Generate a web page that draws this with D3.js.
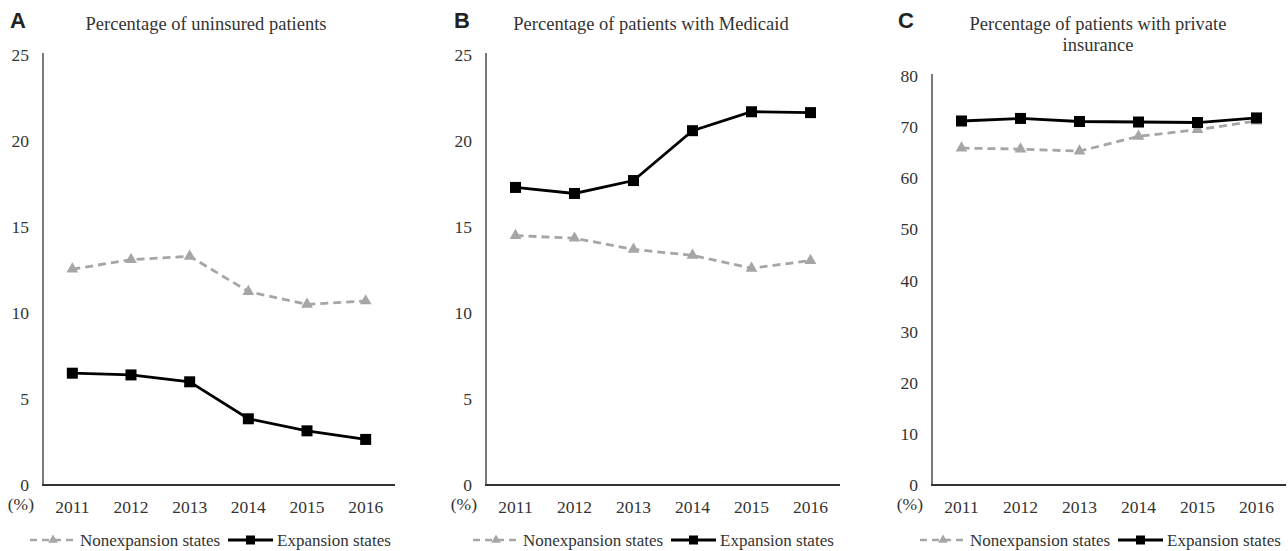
<!DOCTYPE html>
<html>
<head>
<meta charset="utf-8">
<script src="https://cdn.jsdelivr.net/npm/d3@7"></script>
<style>
  body { margin: 0; background: #fff; }
</style>
</head>
<body>
<svg id="chart"></svg>
<script>
// years on the x axis (shared by every panel)
const years = ["2011", "2012", "2013", "2014", "2015", "2016"];

// A: uninsured
const uninsuredNonexp = [12.55, 13.1, 13.3, 11.25, 10.5, 10.7];
const uninsuredExp    = [6.5, 6.4, 6.0, 3.85, 3.15, 2.65];

// B: Medicaid
const medicaidNonexp = [14.5, 14.35, 13.7, 13.35, 12.6, 13.05];
const medicaidExp    = [17.3, 16.95, 17.7, 20.6, 21.7, 21.65];

// C: private insurance
const privateNonexp = [65.9, 65.7, 65.3, 68.2, 69.5, 71.2];
const privateExp    = [71.2, 71.7, 71.1, 71.0, 70.9, 71.8];

const yTicksAB = [0, 5, 10, 15, 20, 25];
const yTicksC  = [0, 10, 20, 30, 40, 50, 60, 70, 80];

const legendLabels = ["Nonexpansion states", "Expansion states"];

const SERIF = "'Liberation Serif', 'Times New Roman', Tinos, 'DejaVu Serif', serif";
const SANS = "'Liberation Sans', Arial, sans-serif";

const panels = [
    { letter: "A", title: ["Percentage of uninsured patients"], nonexp: uninsuredNonexp, exp: uninsuredExp,
      yMax: 25, ticks: yTicksAB, x0: 43, x1: 395, yTop: 55, titleX: 206, letterX: 10, legendX: 30 },
    { letter: "B", title: ["Percentage of patients with Medicaid"], nonexp: medicaidNonexp, exp: medicaidExp,
      yMax: 25, ticks: yTicksAB, x0: 486, x1: 840, yTop: 55, titleX: 651, letterX: 454, legendX: 473 },
    { letter: "C", title: ["Percentage of patients with private", "insurance"], nonexp: privateNonexp, exp: privateExp,
      yMax: 80, ticks: yTicksC, x0: 932, x1: 1286, yTop: 76, titleX: 1098, letterX: 898, legendX: 920 }
];

const W = 1288, H = 551;
const yBottom = 485;
const grey = "#a6a6a6";
const textCol = "#333";

const svg = d3.select("#chart").attr("width", W).attr("height", H);

panels.forEach(p => {
    let g = svg.append("g");

    let x = d3.scaleBand().domain(years).range([p.x0, p.x1]);
    let y = d3.scaleLinear().domain([0, p.yMax]).range([yBottom, p.yTop]);
    let cx = d => x(d) + x.bandwidth() / 2;

    // panel letter + title
    g.append("text")
        .attr("x", p.letterX).attr("y", 28)
        .attr("font-family", SANS).attr("font-weight", "bold").attr("font-size", 22)
        .attr("fill", "#222")
        .text(p.letter);

    p.title.forEach((t, i) => {
        g.append("text")
            .attr("x", p.titleX).attr("y", 30 + i * 21)
            .attr("text-anchor", "middle")
            .attr("font-family", SERIF).attr("font-size", 18.5).attr("fill", textCol)
            .text(t);
    });

    // y axis
    let yAxis = d3.axisLeft(y).tickValues(p.ticks).tickSize(0).tickPadding(14).tickFormat(d3.format("d"));
    let yG = g.append("g").attr("transform", `translate(${p.x0},0)`).call(yAxis)
        .attr("font-family", SERIF).attr("font-size", 17.5);
    yG.select(".domain").attr("stroke", "#7a7a7a").attr("stroke-width", 2)
        .attr("d", `M0,${y(p.yMax) - 2}V${yBottom}`);
    yG.selectAll("text").attr("fill", textCol);

    // x axis
    let xAxis = d3.axisBottom(x).tickSize(0).tickPadding(16);
    let xG = g.append("g").attr("transform", `translate(0,${yBottom})`).call(xAxis)
        .attr("font-family", SERIF).attr("font-size", 17.5);
    xG.select(".domain").attr("stroke", "#333").attr("stroke-width", 2)
        .attr("d", `M${p.x0 - 1},0H${p.x1}`);
    xG.selectAll("text").attr("fill", textCol);

    g.append("text")
        .attr("x", p.x0 - 9).attr("y", 510)
        .attr("text-anchor", "end")
        .attr("font-family", SERIF).attr("font-size", 17.5).attr("fill", textCol)
        .text("(%)");

    let line = d3.line().x((d, i) => cx(years[i])).y(d => y(d));

    // nonexpansion: gray dashed with triangles
    g.append("path").datum(p.nonexp)
        .attr("d", line).attr("fill", "none")
        .attr("stroke", grey).attr("stroke-width", 2.8).attr("stroke-dasharray", "8,5");
    g.selectAll(".tri").data(p.nonexp).join("path")
        .attr("class", "tri")
        .attr("transform", (d, i) => `translate(${cx(years[i])},${y(d)})`)
        .attr("d", d3.symbol(d3.symbolTriangle, 60))
        .attr("fill", grey);

    // expansion: black solid with squares
    g.append("path").datum(p.exp)
        .attr("d", line).attr("fill", "none")
        .attr("stroke", "#000").attr("stroke-width", 2.8);
    g.selectAll(".sq").data(p.exp).join("rect")
        .attr("class", "sq")
        .attr("x", (d, i) => cx(years[i]) - 5.5).attr("y", d => y(d) - 5.5)
        .attr("width", 11).attr("height", 11)
        .attr("fill", "#000");

    // legend
    let ly = 540;
    let lg = g.append("g").attr("transform", `translate(${p.legendX},0)`)
        .attr("font-family", SERIF).attr("font-size", 17).attr("fill", textCol);
    lg.append("line").attr("x1", 0).attr("x2", 46).attr("y1", ly).attr("y2", ly)
        .attr("stroke", grey).attr("stroke-width", 2.5).attr("stroke-dasharray", "7,5");
    lg.append("path").attr("transform", `translate(23,${ly})`)
        .attr("d", d3.symbol(d3.symbolTriangle, 40)).attr("fill", grey);
    lg.append("text").attr("x", 50).attr("y", ly + 6).text(legendLabels[0]);
    lg.append("line").attr("x1", 198).attr("x2", 243).attr("y1", ly).attr("y2", ly)
        .attr("stroke", "#000").attr("stroke-width", 2.8);
    lg.append("rect").attr("x", 216).attr("y", ly - 4.5).attr("width", 9).attr("height", 9).attr("fill", "#000");
    lg.append("text").attr("x", 247).attr("y", ly + 6).text(legendLabels[1]);
});
</script>
</body>
</html>
